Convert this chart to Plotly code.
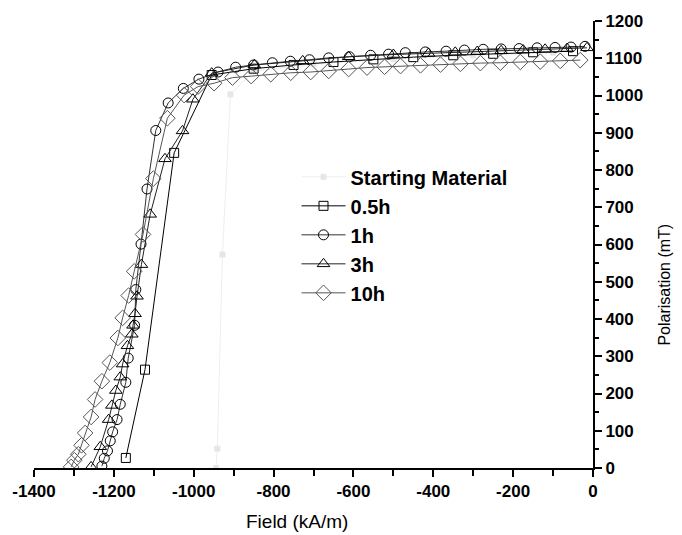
import plotly.graph_objects as go

# ---------------- data ----------------
series_names = ["Starting Material", "0.5h", "1h", "3h", "10h"]

start_x = [-944, -941, -928, -908, -850, -700, -500, -300, -100]
start_y = [0, 52, 573, 1003, 1065, 1085, 1098, 1108, 1115]

h05_x = [-1170, -1122, -1049, -955, -850, -750, -650, -550, -450, -350, -250, -150, -50]
h05_y = [27, 264, 846, 1055, 1072, 1082, 1090, 1097, 1103, 1108, 1112, 1116, 1119]

h1_x = [-1230, -1224, -1216, -1209, -1203, -1192, -1184, -1170, -1164, -1148, -1145, -1132,
        -1117, -1095, -1064, -1026, -987, -939, -895, -850, -803, -758, -710, -662, -610,
        -557, -512, -470, -420, -368, -322, -275, -230, -185, -140, -95, -55, -20]
h1_y = [5, 26, 46, 73, 97, 130, 171, 230, 295, 383, 479, 601,
        749, 906, 980, 1019, 1044, 1063, 1076, 1082, 1088, 1092, 1096, 1101, 1104,
        1108, 1111, 1115, 1117, 1119, 1122, 1124, 1125, 1126, 1128, 1129, 1130, 1132]

h3_x = [-1257, -1234, -1213, -1205, -1195, -1184, -1178, -1166, -1155, -1152, -1147, -1142,
        -1131, -1109, -1072, -1028, -1002, -955, -848, -727, -612, -500, -412, -345, -290,
        -230, -175, -120, -65, -15]
h3_y = [3, 57, 130, 168, 208, 244, 279, 328, 359, 383, 414, 461,
        546, 681, 830, 905, 990, 1060, 1082, 1093, 1104, 1110, 1113, 1116, 1118,
        1120, 1122, 1124, 1126, 1128]

h10_x = [-1307, -1299, -1289, -1281, -1272, -1257, -1247, -1230, -1210, -1190, -1178, -1163,
         -1149, -1127, -1101, -1066, -1024, -989, -949, -903, -856, -807, -757, -707, -662,
         -612, -566, -522, -482, -432, -382, -332, -282, -232, -182, -132, -82, -32]
h10_y = [3, 21, 37, 61, 94, 137, 184, 233, 283, 349, 403, 463,
         528, 627, 777, 939, 1001, 1024, 1033, 1048, 1052, 1057, 1061, 1063, 1066,
         1071, 1075, 1077, 1079, 1081, 1083, 1085, 1087, 1088, 1090, 1091, 1093, 1095]

x_ticks = [-1400, -1200, -1000, -800, -600, -400, -200, 0]
y_ticks = [0, 100, 200, 300, 400, 500, 600, 700, 800, 900, 1000, 1100, 1200]

x_title = "Field (kA/m)"
y_title = "Polarisation (mT)"

# ---------------- figure ----------------
FONT = "Liberation Sans, Arial, sans-serif"
fig = go.Figure()

styles = [
    (start_x, start_y, "square", "#e6e6e6", 5, "#eeeeee"),
    (h05_x, h05_y, "square-open", "black", 9, "black"),
    (h1_x, h1_y, "circle-open", "black", 10, "#333333"),
    (h3_x, h3_y, "triangle-up-open", "black", 11, "#222222"),
    (h10_x, h10_y, "diamond-open", "#555555", 12, "#555555"),
]
for i, (xs, ys, sym, mcol, size, lcol) in enumerate(styles):
    fig.add_trace(go.Scatter(
        x=xs, y=ys, name=series_names[i], mode="lines+markers",
        line=dict(color=lcol, width=1),
        marker=dict(symbol=sym, size=size, color=mcol,
                    line=dict(color=mcol, width=1)),
    ))

fig.add_annotation(text=x_title, xref="paper", yref="paper", x=0.471, y=-0.12,
                   showarrow=False, xanchor="center", yanchor="middle",
                   font=dict(family=FONT, size=19, color="black"))
fig.add_annotation(text=y_title, xref="paper", yref="paper", x=1.1286, y=0.41,
                   textangle=-90, showarrow=False, xanchor="center", yanchor="middle",
                   font=dict(family=FONT, size=16, color="black"))

fig.update_layout(
    width=682, height=535,
    margin=dict(l=33, r=89, t=18, b=67),
    paper_bgcolor="white", plot_bgcolor="white",
    font=dict(family=FONT, color="black"),
    showlegend=True,
    legend=dict(x=0.4696, y=0.695, xanchor="left", yanchor="top",
                bgcolor="rgba(0,0,0,0)", borderwidth=0,
                font=dict(family=FONT, size=20, weight="bold"),
                tracegroupgap=0, itemwidth=44),
    xaxis=dict(range=[-1400, 0], showgrid=False, zeroline=False,
               showline=True, linecolor="black", linewidth=2,
               ticks="outside", ticklen=7, tickwidth=1.5, tickcolor="black",
               tickvals=x_ticks, ticktext=[str(v) for v in x_ticks],
               minor=dict(ticks="outside", dtick=100, ticklen=6, tickwidth=1.5, tickcolor="black"),
               tickfont=dict(family=FONT, size=17, weight="bold")),
    yaxis=dict(range=[0, 1200], side="right", showgrid=False, zeroline=False,
               showline=True, linecolor="black", linewidth=2,
               ticks="outside", ticklen=7, tickwidth=1.5, tickcolor="black",
               tickvals=y_ticks, ticktext=[str(v) for v in y_ticks],
               minor=dict(ticks="outside", dtick=50, ticklen=4, tickwidth=1.5, tickcolor="black"),
               tickfont=dict(family=FONT, size=17, weight="bold")),
)

fig.write_html("out.html")
